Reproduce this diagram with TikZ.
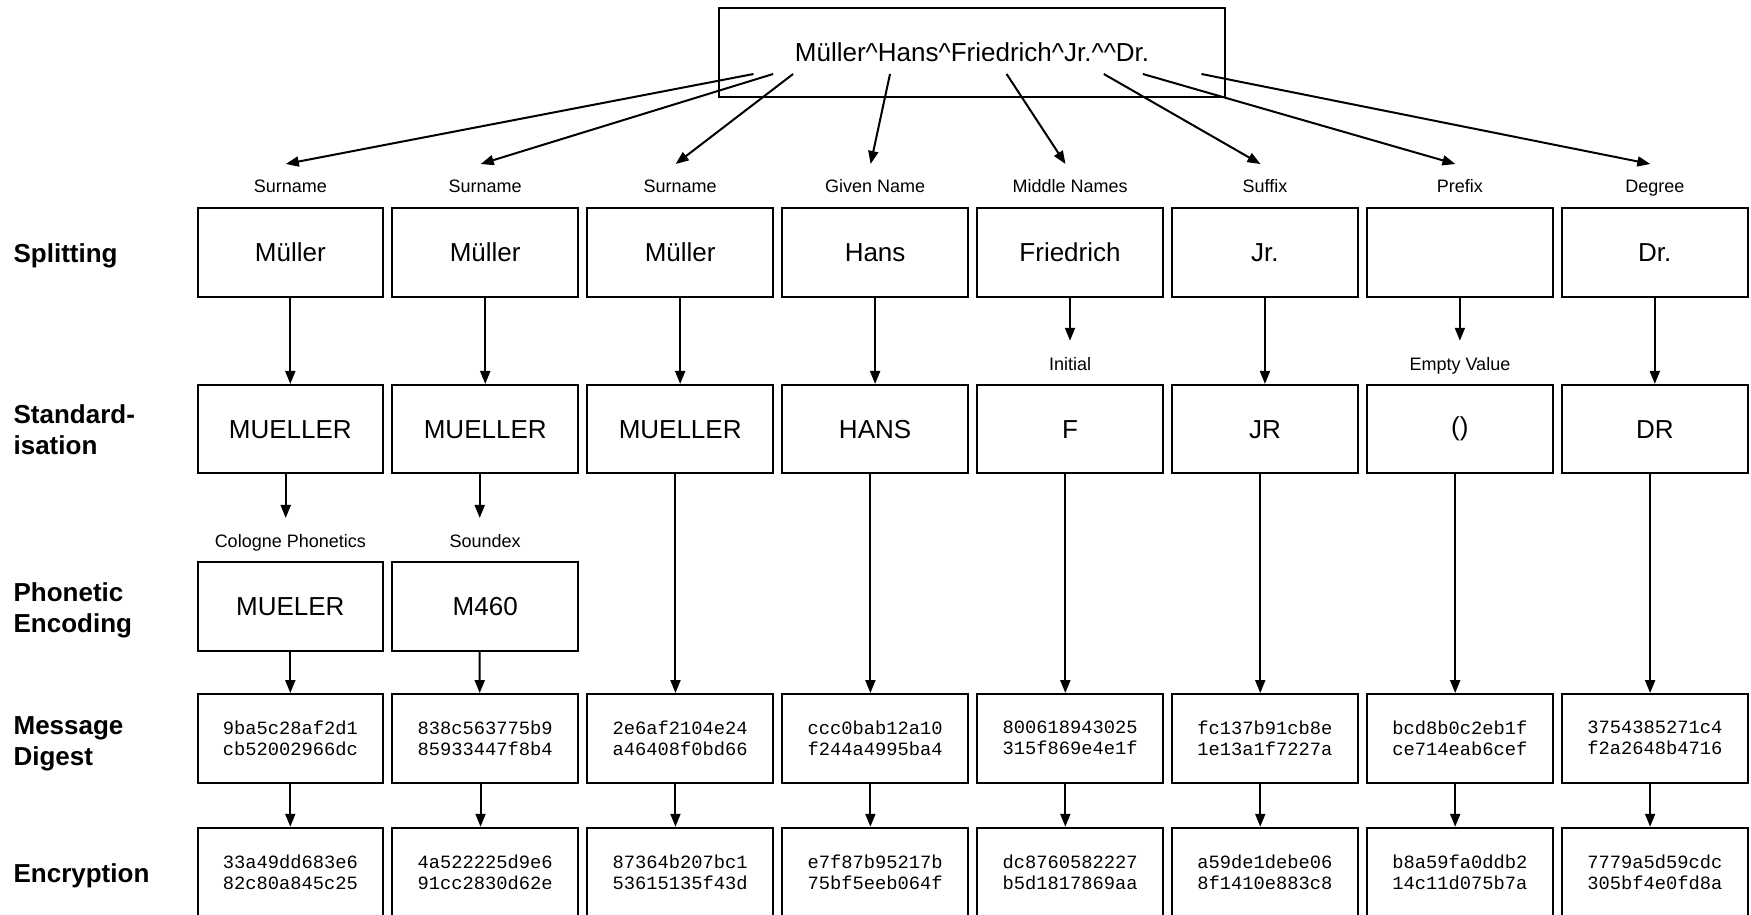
\documentclass[tikz,border=0pt]{standalone}
\usepackage{fontspec}
\setmainfont{Liberation Sans}
\setmonofont{Liberation Mono}
\usetikzlibrary{arrows.meta,calc}

\begin{document}
\begin{tikzpicture}[x=1pt,y=-1pt,
  box/.style={draw, line width=2pt, minimum width=185.5pt, minimum height=88.5pt,
    inner sep=0pt, font=\fontsize{26}{30}\selectfont},
  hexbox/.style={box, align=center, font=\ttfamily\fontsize{18.75}{21}\selectfont},
  tag/.style={inner sep=0pt, anchor=base, font=\fontsize{18}{21}\selectfont},
  rowlabel/.style={inner sep=0pt, anchor=west, align=left,
    font=\bfseries\fontsize{26}{31.3}\selectfont},
  flow/.style={line width=2pt, -{Triangle[length=13pt,width=10pt]}},
]
\useasboundingbox (0,0) rectangle (1751,915);

% stage names
\node[rowlabel] (lsplit) at (13.4,255.5) {Splitting};
\node[rowlabel] (lstd)   at (13.4,430) {Standard-\\isation};
\node[rowlabel] (lphon)  at (13.4,610) {Phonetic\\Encoding};
\node[rowlabel] (ldig)   at (13.4,744) {Message\\Digest};
\node[rowlabel] (lenc)   at (13.4,875.5) {Encryption};

% the full name record
\node[box, minimum width=506pt, minimum height=89.4pt] (top) at (972.1,52.5)
  {Müller\textasciicircum Hans\textasciicircum Friedrich\textasciicircum Jr.\textasciicircum\textasciicircum Dr.};

% one column per name component
\foreach \i/\tg/\sp/\st/\da/\db/\ea/\eb in {
  1/Surname/Müller/MUELLER/9ba5c28af2d1/cb52002966dc/33a49dd683e6/82c80a845c25,
  2/Surname/Müller/MUELLER/838c563775b9/85933447f8b4/4a522225d9e6/91cc2830d62e,
  3/Surname/Müller/MUELLER/2e6af2104e24/a46408f0bd66/87364b207bc1/53615135f43d,
  4/Given Name/Hans/HANS/ccc0bab12a10/f244a4995ba4/e7f87b95217b/75bf5eeb064f,
  5/Middle Names/Friedrich/F/800618943025/315f869e4e1f/dc8760582227/b5d1817869aa,
  6/Suffix/Jr./JR/fc137b91cb8e/1e13a1f7227a/a59de1debe06/8f1410e883c8,
  7/Prefix//()/bcd8b0c2eb1f/ce714eab6cef/b8a59fa0ddb2/14c11d075b7a,
  8/Degree/Dr./DR/3754385271c4/f2a2648b4716/7779a5d59cdc/305bf4e0fd8a}{
  \pgfmathsetmacro\cx{290.3+194.93*(\i-1)}
  \node[tag] (tag\i) at (\cx,193) {\tg};
  \node[box] (sp\i) at (\cx,252.5) {\sp};
  \node[box] (st\i) at (\cx,429.2) {\st};
  \node[hexbox] (dg\i) at (\cx,738.3) {\da\\\db};
  \node[hexbox] (en\i) at (\cx,872) {\ea\\\eb};
  \coordinate (t\i) at (\cx-4.5,164);
}

% phonetic codes of the surname
\node[tag] (tagc) at (290.3,547) {Cologne Phonetics};
\node[tag] (tags) at (485.2,547) {Soundex};
\node[box] (ph1) at (290.3,606.5) {MUELER};
\node[box] (ph2) at (485.2,606.5) {M460};

% notes on standardisation
\node[tag] (tagi) at (1070.0,370.5) {Initial};
\node[tag] (tage) at (1459.9,370.5) {Empty Value};

% split the record into its components
\coordinate (s1) at (753.5,74);
\coordinate (s2) at (773.1,74);
\coordinate (s3) at (793.1,74);
\coordinate (s4) at (890,74);
\coordinate (s5) at (1006.6,74);
\coordinate (s6) at (1103.8,74);
\coordinate (s7) at (1142.9,74);
\coordinate (s8) at (1201.4,74);
\foreach \i in {1,...,8}{\draw[flow] (s\i) -- (t\i);}

% splitting -> standardisation
\foreach \i in {1,2,3,4,6,8}{\draw[flow] (sp\i.south) -- (st\i.north);}
\coordinate (a5) at ($(sp5.south)+(0,43)$);
\coordinate (a7) at ($(sp7.south)+(0,43)$);
\draw[flow] (sp5.south) -- (a5);
\draw[flow] (sp7.south) -- (a7);

% standardisation -> phonetic encoding
\coordinate (b1) at ($(st1.south)+(-4.6,43.5)$);
\coordinate (b2) at ($(st2.south)+(-5.5,43.5)$);
\draw[flow] ([xshift=-4.6pt]st1.south) -- (b1);
\draw[flow] ([xshift=-5.5pt]st2.south) -- (b2);

% phonetic encoding -> digest
\draw[flow] (ph1.south) -- (dg1.north);
\draw[flow] ([xshift=-5.5pt]ph2.south) -- ([xshift=-5.5pt]dg2.north);

% standardisation -> digest
\foreach \i in {3,...,8}{\draw[flow] ([xshift=-4.7pt]st\i.south) -- ([xshift=-4.7pt]dg\i.north);}

% digest -> encryption
\draw[flow] (dg1.south) -- (en1.north);
\foreach \i in {2,...,8}{\draw[flow] ([xshift=-4.7pt]dg\i.south) -- ([xshift=-4.7pt]en\i.north);}
\end{tikzpicture}
\end{document}
